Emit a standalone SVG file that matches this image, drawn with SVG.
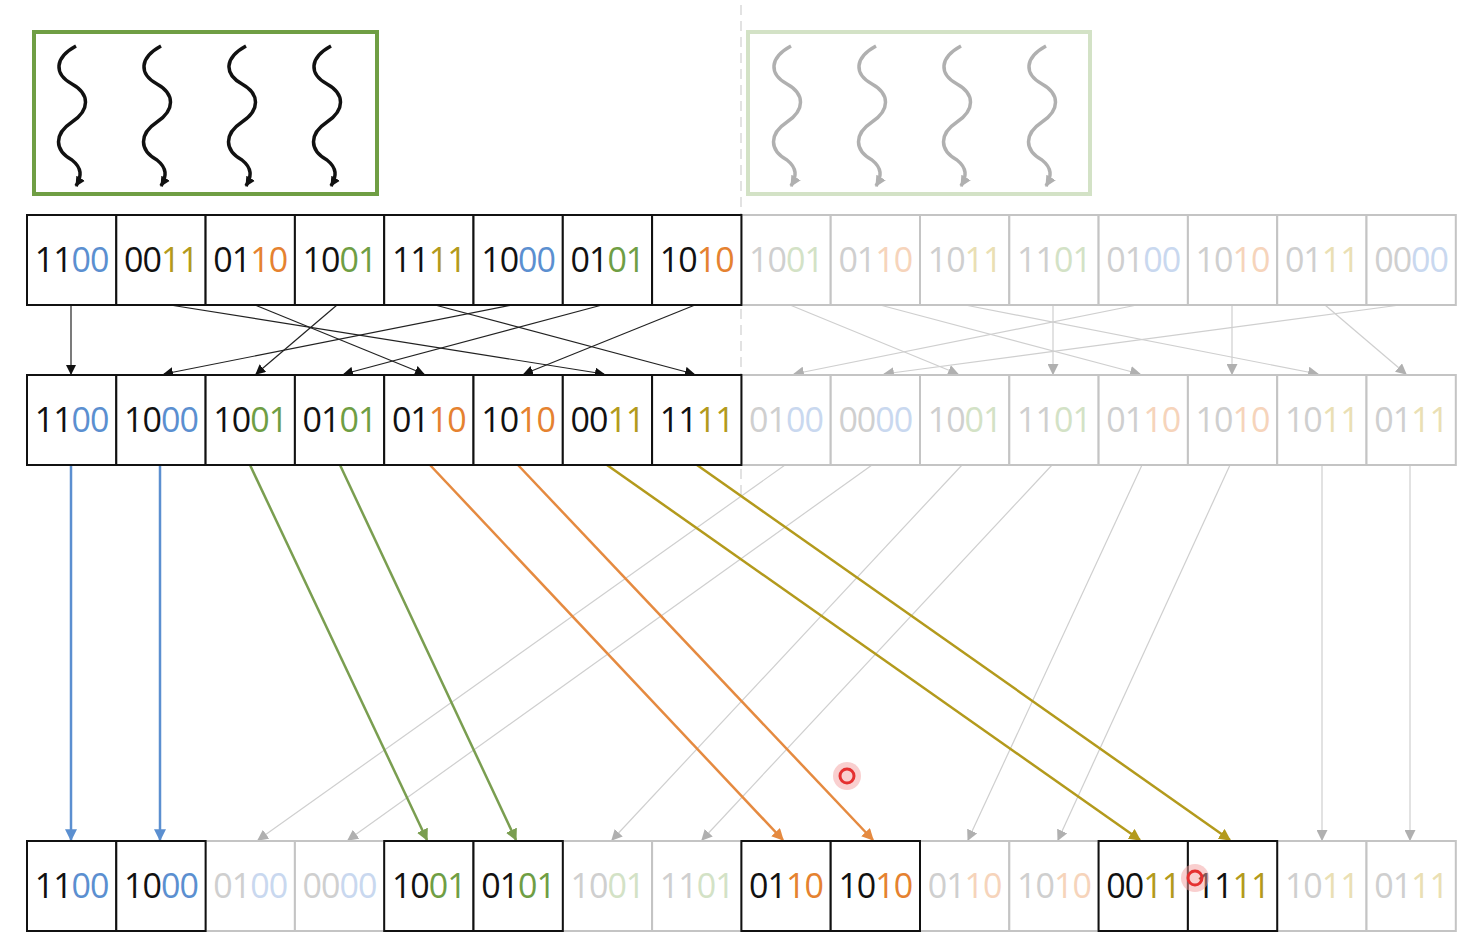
<svg xmlns="http://www.w3.org/2000/svg" width="1472" height="950" viewBox="0 0 1472 950">
<style>
.c{fill:#fff;stroke:#111;stroke-width:2}
.g{fill:#fff;stroke:#c4c4c4;stroke-width:2}
text{font-family:"Open Sans","Liberation Sans",sans-serif;font-size:34px;text-anchor:middle;letter-spacing:-1px}
.k{fill:#111}.b{fill:#5b8fd0}.n{fill:#6f9e44}.o{fill:#e58230}.y{fill:#b39a1c}
.fk{fill:#cfcfcf}.fb{fill:#c9d8ef}.fn{fill:#d3e2c6}.fo{fill:#f6d4bb}.fy{fill:#eadfb4}
.lk{stroke:#222;stroke-width:1.2;fill:none}
.lg{stroke:#cfcfcf;stroke-width:1.2;fill:none}
.lb{stroke:#5b8fd0;stroke-width:2.5;fill:none}
.ln{stroke:#7a9e50;stroke-width:2.5;fill:none}
.lo{stroke:#e58a40;stroke-width:2.5;fill:none}
.ly{stroke:#b39a1c;stroke-width:2.5;fill:none}
.w{fill:none;stroke-width:3.5}
</style>
<defs>
<marker id="mk" viewBox="0 0 10 10" refX="9" refY="5" markerWidth="10" markerHeight="10" markerUnits="userSpaceOnUse" orient="auto"><path d="M0,0L10,5L0,10z" fill="#111"/></marker>
<marker id="mg" viewBox="0 0 10 10" refX="9" refY="5" markerWidth="11" markerHeight="11" markerUnits="userSpaceOnUse" orient="auto"><path d="M0,0L10,5L0,10z" fill="#b0b0b0"/></marker>
<marker id="mb" viewBox="0 0 10 10" refX="9" refY="5" markerWidth="12" markerHeight="12" markerUnits="userSpaceOnUse" orient="auto"><path d="M0,0L10,5L0,10z" fill="#5b8fd0"/></marker>
<marker id="mn" viewBox="0 0 10 10" refX="9" refY="5" markerWidth="12" markerHeight="12" markerUnits="userSpaceOnUse" orient="auto"><path d="M0,0L10,5L0,10z" fill="#7a9e50"/></marker>
<marker id="mo" viewBox="0 0 10 10" refX="9" refY="5" markerWidth="12" markerHeight="12" markerUnits="userSpaceOnUse" orient="auto"><path d="M0,0L10,5L0,10z" fill="#e58a40"/></marker>
<marker id="my" viewBox="0 0 10 10" refX="9" refY="5" markerWidth="12" markerHeight="12" markerUnits="userSpaceOnUse" orient="auto"><path d="M0,0L10,5L0,10z" fill="#b39a1c"/></marker>
<path id="sq" d="M0,0c-22,12-22,28-4,38c18,10,18,26,0,38c-18,12-18,28,0,38c10,8,10,16,4,26"/>
</defs>
<line x1="741" y1="5" x2="741" y2="495" stroke="#e2e2e2" stroke-width="2" stroke-dasharray="10,6"/>
<g id="threads-active">
<rect x="34" y="32" width="343" height="162" fill="none" stroke="#6f9e44" stroke-width="4"/>
<g stroke="#111" class="w" marker-end="url(#mk)">
<use href="#sq" x="76" y="46"/><use href="#sq" x="161" y="46"/><use href="#sq" x="246" y="46"/><use href="#sq" x="331" y="46"/>
</g>
</g>
<g id="threads-idle">
<rect x="748" y="32" width="342" height="162" fill="none" stroke="#d3e2c6" stroke-width="4"/>
<g stroke="#b0b0b0" class="w" marker-end="url(#mg)">
<use href="#sq" x="791" y="46"/><use href="#sq" x="876" y="46"/><use href="#sq" x="961" y="46"/><use href="#sq" x="1046" y="46"/>
</g>
</g>
<g id="connectors">
<g class="lk" marker-end="url(#mk)">
<line x1="71" y1="305" x2="71" y2="374"/>
<line x1="170" y1="305" x2="604" y2="374"/>
<line x1="255" y1="305" x2="424" y2="374"/>
<line x1="337" y1="305" x2="256" y2="374"/>
<line x1="435" y1="305" x2="694" y2="374"/>
<line x1="512" y1="305" x2="164" y2="374"/>
<line x1="602" y1="305" x2="344" y2="374"/>
<line x1="695" y1="305" x2="524" y2="374"/>
</g>
<g class="lg" marker-end="url(#mg)">
<line x1="790" y1="305" x2="958" y2="374"/>
<line x1="880" y1="305" x2="1140" y2="374"/>
<line x1="965" y1="305" x2="1318" y2="374"/>
<line x1="1053" y1="305" x2="1053" y2="374"/>
<line x1="1137" y1="305" x2="794" y2="374"/>
<line x1="1232" y1="305" x2="1232" y2="374"/>
<line x1="1325" y1="305" x2="1406" y2="374"/>
<line x1="1400" y1="305" x2="884" y2="374"/>
</g>
<g class="lg" marker-end="url(#mg)">
<line x1="785" y1="465" x2="258" y2="840"/>
<line x1="872" y1="465" x2="348" y2="840"/>
<line x1="962" y1="465" x2="612" y2="840"/>
<line x1="1052" y1="465" x2="702" y2="840"/>
<line x1="1142" y1="465" x2="968" y2="840"/>
<line x1="1230" y1="465" x2="1058" y2="840"/>
<line x1="1322" y1="465" x2="1322" y2="840"/>
<line x1="1410" y1="465" x2="1410" y2="840"/>
</g>
<g marker-end="url(#mb)" class="lb"><line x1="71" y1="465" x2="71" y2="840"/><line x1="160" y1="465" x2="160" y2="840"/></g>
<g marker-end="url(#mn)" class="ln"><line x1="250" y1="465" x2="427" y2="840"/><line x1="340" y1="465" x2="516" y2="840"/></g>
<g marker-end="url(#mo)" class="lo"><line x1="430" y1="465" x2="783" y2="840"/><line x1="518" y1="465" x2="873" y2="840"/></g>
<g marker-end="url(#my)" class="ly"><line x1="607" y1="465" x2="1140" y2="840"/><line x1="697" y1="465" x2="1230" y2="840"/></g>
</g>
<g id="row1">
<rect class="g" x="741.4" y="215" width="89.3" height="90"/><rect class="g" x="830.7" y="215" width="89.3" height="90"/><rect class="g" x="920" y="215" width="89.3" height="90"/><rect class="g" x="1009.3" y="215" width="89.3" height="90"/><rect class="g" x="1098.6" y="215" width="89.3" height="90"/><rect class="g" x="1187.9" y="215" width="89.3" height="90"/><rect class="g" x="1277.2" y="215" width="89.3" height="90"/><rect class="g" x="1366.5" y="215" width="89.3" height="90"/>
<rect class="c" x="27" y="215" width="89.3" height="90"/><rect class="c" x="116.3" y="215" width="89.3" height="90"/><rect class="c" x="205.6" y="215" width="89.3" height="90"/><rect class="c" x="294.9" y="215" width="89.3" height="90"/><rect class="c" x="384.2" y="215" width="89.3" height="90"/><rect class="c" x="473.5" y="215" width="89.3" height="90"/><rect class="c" x="562.8" y="215" width="89.3" height="90"/><rect class="c" x="652.1" y="215" width="89.3" height="90"/>
<text x="71.6" y="272"><tspan class="k">11</tspan><tspan class="b">00</tspan></text>
<text x="161" y="272"><tspan class="k">00</tspan><tspan class="y">11</tspan></text>
<text x="250.2" y="272"><tspan class="k">01</tspan><tspan class="o">10</tspan></text>
<text x="339.5" y="272"><tspan class="k">10</tspan><tspan class="n">01</tspan></text>
<text x="428.8" y="272"><tspan class="k">11</tspan><tspan class="y">11</tspan></text>
<text x="518.1" y="272"><tspan class="k">10</tspan><tspan class="b">00</tspan></text>
<text x="607.4" y="272"><tspan class="k">01</tspan><tspan class="n">01</tspan></text>
<text x="696.7" y="272"><tspan class="k">10</tspan><tspan class="o">10</tspan></text>
<text x="786" y="272"><tspan class="fk">10</tspan><tspan class="fn">01</tspan></text>
<text x="875.3" y="272"><tspan class="fk">01</tspan><tspan class="fo">10</tspan></text>
<text x="964.6" y="272"><tspan class="fk">10</tspan><tspan class="fy">11</tspan></text>
<text x="1054" y="272"><tspan class="fk">11</tspan><tspan class="fn">01</tspan></text>
<text x="1143.2" y="272"><tspan class="fk">01</tspan><tspan class="fb">00</tspan></text>
<text x="1232.5" y="272"><tspan class="fk">10</tspan><tspan class="fo">10</tspan></text>
<text x="1321.8" y="272"><tspan class="fk">01</tspan><tspan class="fy">11</tspan></text>
<text x="1411.1" y="272"><tspan class="fk">00</tspan><tspan class="fb">00</tspan></text>
</g>
<g id="row2">
<rect class="g" x="741.4" y="375" width="89.3" height="90"/><rect class="g" x="830.7" y="375" width="89.3" height="90"/><rect class="g" x="920" y="375" width="89.3" height="90"/><rect class="g" x="1009.3" y="375" width="89.3" height="90"/><rect class="g" x="1098.6" y="375" width="89.3" height="90"/><rect class="g" x="1187.9" y="375" width="89.3" height="90"/><rect class="g" x="1277.2" y="375" width="89.3" height="90"/><rect class="g" x="1366.5" y="375" width="89.3" height="90"/>
<rect class="c" x="27" y="375" width="89.3" height="90"/><rect class="c" x="116.3" y="375" width="89.3" height="90"/><rect class="c" x="205.6" y="375" width="89.3" height="90"/><rect class="c" x="294.9" y="375" width="89.3" height="90"/><rect class="c" x="384.2" y="375" width="89.3" height="90"/><rect class="c" x="473.5" y="375" width="89.3" height="90"/><rect class="c" x="562.8" y="375" width="89.3" height="90"/><rect class="c" x="652.1" y="375" width="89.3" height="90"/>
<text x="71.6" y="432"><tspan class="k">11</tspan><tspan class="b">00</tspan></text>
<text x="161" y="432"><tspan class="k">10</tspan><tspan class="b">00</tspan></text>
<text x="250.2" y="432"><tspan class="k">10</tspan><tspan class="n">01</tspan></text>
<text x="339.5" y="432"><tspan class="k">01</tspan><tspan class="n">01</tspan></text>
<text x="428.8" y="432"><tspan class="k">01</tspan><tspan class="o">10</tspan></text>
<text x="518.1" y="432"><tspan class="k">10</tspan><tspan class="o">10</tspan></text>
<text x="607.4" y="432"><tspan class="k">00</tspan><tspan class="y">11</tspan></text>
<text x="696.7" y="432"><tspan class="k">11</tspan><tspan class="y">11</tspan></text>
<text x="786" y="432"><tspan class="fk">01</tspan><tspan class="fb">00</tspan></text>
<text x="875.3" y="432"><tspan class="fk">00</tspan><tspan class="fb">00</tspan></text>
<text x="964.6" y="432"><tspan class="fk">10</tspan><tspan class="fn">01</tspan></text>
<text x="1054" y="432"><tspan class="fk">11</tspan><tspan class="fn">01</tspan></text>
<text x="1143.2" y="432"><tspan class="fk">01</tspan><tspan class="fo">10</tspan></text>
<text x="1232.5" y="432"><tspan class="fk">10</tspan><tspan class="fo">10</tspan></text>
<text x="1321.8" y="432"><tspan class="fk">10</tspan><tspan class="fy">11</tspan></text>
<text x="1411.1" y="432"><tspan class="fk">01</tspan><tspan class="fy">11</tspan></text>
</g>
<g id="row3">
<rect class="g" x="205.6" y="841" width="89.3" height="90"/><rect class="g" x="294.9" y="841" width="89.3" height="90"/><rect class="g" x="562.8" y="841" width="89.3" height="90"/><rect class="g" x="652.1" y="841" width="89.3" height="90"/><rect class="g" x="920" y="841" width="89.3" height="90"/><rect class="g" x="1009.3" y="841" width="89.3" height="90"/><rect class="g" x="1277.2" y="841" width="89.3" height="90"/><rect class="g" x="1366.5" y="841" width="89.3" height="90"/>
<rect class="c" x="27" y="841" width="89.3" height="90"/><rect class="c" x="116.3" y="841" width="89.3" height="90"/><rect class="c" x="384.2" y="841" width="89.3" height="90"/><rect class="c" x="473.5" y="841" width="89.3" height="90"/><rect class="c" x="741.4" y="841" width="89.3" height="90"/><rect class="c" x="830.7" y="841" width="89.3" height="90"/><rect class="c" x="1098.6" y="841" width="89.3" height="90"/><rect class="c" x="1187.9" y="841" width="89.3" height="90"/>
<text x="71.6" y="898"><tspan class="k">11</tspan><tspan class="b">00</tspan></text>
<text x="161" y="898"><tspan class="k">10</tspan><tspan class="b">00</tspan></text>
<text x="250.2" y="898"><tspan class="fk">01</tspan><tspan class="fb">00</tspan></text>
<text x="339.5" y="898"><tspan class="fk">00</tspan><tspan class="fb">00</tspan></text>
<text x="428.8" y="898"><tspan class="k">10</tspan><tspan class="n">01</tspan></text>
<text x="518.1" y="898"><tspan class="k">01</tspan><tspan class="n">01</tspan></text>
<text x="607.4" y="898"><tspan class="fk">10</tspan><tspan class="fn">01</tspan></text>
<text x="696.7" y="898"><tspan class="fk">11</tspan><tspan class="fn">01</tspan></text>
<text x="786" y="898"><tspan class="k">01</tspan><tspan class="o">10</tspan></text>
<text x="875.3" y="898"><tspan class="k">10</tspan><tspan class="o">10</tspan></text>
<text x="964.6" y="898"><tspan class="fk">01</tspan><tspan class="fo">10</tspan></text>
<text x="1054" y="898"><tspan class="fk">10</tspan><tspan class="fo">10</tspan></text>
<text x="1143.2" y="898"><tspan class="k">00</tspan><tspan class="y">11</tspan></text>
<text x="1232.5" y="898"><tspan class="k">11</tspan><tspan class="y">11</tspan></text>
<text x="1321.8" y="898"><tspan class="fk">10</tspan><tspan class="fy">11</tspan></text>
<text x="1411.1" y="898"><tspan class="fk">01</tspan><tspan class="fy">11</tspan></text>
</g>
<g id="cursor-marks">
<circle cx="847" cy="776" r="14" fill="#f4a0a0" opacity="0.5"/><circle cx="847" cy="776" r="7" fill="none" stroke="#e53030" stroke-width="3"/>
<circle cx="1195" cy="878" r="14" fill="#f4a0a0" opacity="0.5"/><circle cx="1195" cy="878" r="7" fill="none" stroke="#e53030" stroke-width="3"/>
</g>
</svg>
